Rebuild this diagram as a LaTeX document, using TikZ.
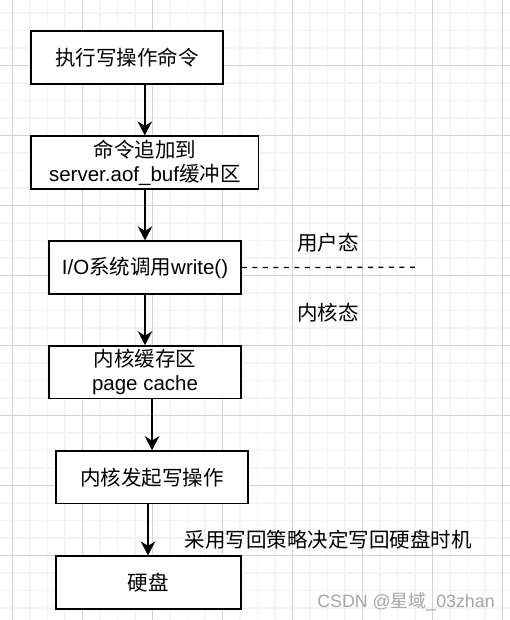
\documentclass[tikz,border=0pt]{standalone}
\usepackage{fontspec}
\setmainfont{Liberation Sans}
\newfontfamily\cjk{Noto Sans CJK SC}
\usetikzlibrary{arrows.meta}
\definecolor{minorgrid}{RGB}{243, 243, 243}
\definecolor{majorgrid}{RGB}{210, 210, 210}
\definecolor{markcolor}{RGB}{165, 165, 165}

\begin{document}
\begin{tikzpicture}[x=1pt, y=-1pt,
        box/.style={draw, fill=white, line width=1.7pt, inner sep=0pt, align=center,
                minimum height=52.5pt, font=\fontsize{20.5}{24}\selectfont},
        flow/.style={line width=1.8pt, -{Stealth[length=14pt, width=14.5pt, inset=4.5pt]}},
        plain/.style={font=\fontsize{20.5}{24}\selectfont}]
        \useasboundingbox[fill=white] (0, 0) rectangle (510, 620); % page as drawn by draw.io

        % Grid {{{
        \foreach \k in {0,...,28} \draw[minorgrid, line width=1.5pt] ({12.3+17.5*\k}, 0) -- ++(0, 620);
        \foreach \k in {1,...,35} \draw[minorgrid, line width=1.5pt] (0, {-4.7+17.5*\k}) -- ++(510, 0);
        \foreach \k in {0,...,7} \draw[majorgrid, line width=0.9pt] ({12.3+70*\k}, 0) -- ++(0, 620);
        \foreach \k in {1,...,8} \draw[majorgrid, line width=0.9pt] (0, {-4.7+70*\k}) -- ++(510, 0);
        % }}}

        % Steps
        \node[box, minimum width=192pt] (exec) at (127.2, 57.5) {\cjk 执行写操作命令};
        \node[box, minimum width=227.5pt] (aofbuf) at (144.8, 162.5) {{\cjk 命令追加到}\\server.aof\_buf{\cjk 缓冲区}};
        \node[box, minimum width=192pt] (write) at (145, 267.5) {I/O{\cjk 系统调用}write()};
        \node[box, minimum width=192pt] (pagecache) at (145, 372.3) {{\cjk 内核缓存区}\\page cache};
        \node[box, minimum width=192.5pt] (kwrite) at (152, 477.3) {\cjk 内核发起写操作};
        \node[box, minimum width=185pt] (disk) at (148.3, 582.5) {\cjk 硬盘};

        % Arrows
        \coordinate (diskin) at (148, 503.6);
        \draw[flow] (exec.south -| aofbuf.north) -- (aofbuf.north);
        \draw[flow] (aofbuf.south -| write.north) -- (write.north);
        \draw[flow] (write.south) -- (pagecache.north);
        \draw[flow] (pagecache.south -| kwrite.north) -- (kwrite.north);
        \draw[flow] (diskin) -- (diskin |- disk.north);

        % User / kernel boundary
        \coordinate (bound) at (415, 267.3);
        \draw[line width=1.3pt, dash pattern=on 5pt off 5.5pt] (write.east) -- (bound);
        \node[plain] (user) at (328, 242.3) {\cjk 用户态};
        \node[plain] (kernel) at (328, 312.7) {\cjk 内核态};
        \node[plain] (policy) at (328.3, 540) {\cjk 采用写回策略决定写回硬盘时机};

        % Watermark
        \node[markcolor, font=\fontsize{17.8}{20}\selectfont] (mark) at (406, 602) {CSDN @{\cjk 星域}\_03zhan};
\end{tikzpicture}
\end{document}
